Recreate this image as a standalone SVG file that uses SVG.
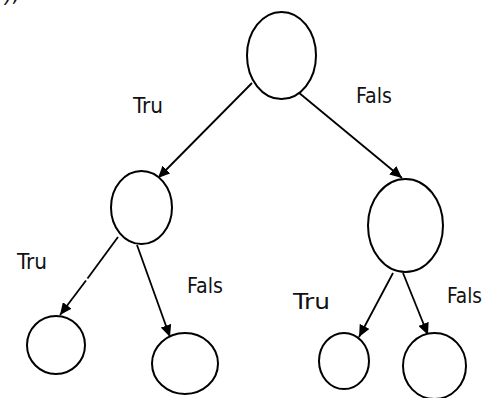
<svg xmlns="http://www.w3.org/2000/svg" width="488" height="398" viewBox="0 0 488 398">
<defs>
<marker id="arr" markerUnits="userSpaceOnUse" markerWidth="13" markerHeight="11" refX="12" refY="5.5" orient="auto">
<path d="M0,0 L12,5.5 L0,11 z" fill="#000"/>
</marker>
<style>
.node{fill:#fff;stroke:#000;stroke-width:2}
.ln{stroke:#000;stroke-width:1.8;fill:none}
.edge{stroke:#000;stroke-width:1.8;fill:none;marker-end:url(#arr)}
.lbl{font-family:"DejaVu Sans Condensed","DejaVu Sans","Liberation Sans",sans-serif;font-size:22px;fill:#111}
</style>
</defs>
<rect width="488" height="398" fill="#fff"/>
<text class="lbl" x="5" y="2" font-style="italic">),</text>
<g id="connectors">
<line class="edge" x1="252" y1="83" x2="158" y2="178"/>
<line class="edge" x1="298" y1="92" x2="402" y2="178"/>
<line class="ln" x1="118" y1="237" x2="87.5" y2="278.5"/>
<line class="edge" x1="86" y1="280.5" x2="60" y2="315"/>
<line class="edge" x1="137" y1="245" x2="170" y2="337"/>
<line class="edge" x1="393" y1="273" x2="359" y2="337"/>
<line class="edge" x1="403" y1="273" x2="428" y2="335"/>
</g>
<g id="root"><ellipse class="node" cx="281.5" cy="55.5" rx="34.5" ry="43.5"/></g>
<g id="left"><ellipse class="node" cx="141.5" cy="207.5" rx="30.5" ry="36.5"/></g>
<g id="right"><ellipse class="node" cx="405.5" cy="225.5" rx="37.5" ry="46.5"/></g>
<g id="leaf1"><ellipse class="node" cx="56" cy="345" rx="29" ry="29"/></g>
<g id="leaf2"><ellipse class="node" cx="185" cy="363.5" rx="33" ry="30.5"/></g>
<g id="leaf3"><ellipse class="node" cx="344" cy="361" rx="25" ry="28"/></g>
<g id="leaf4"><ellipse class="node" cx="434.5" cy="366" rx="31.5" ry="33"/></g>
<g id="labels">
<text class="lbl" x="133" y="113" textLength="30" lengthAdjust="spacingAndGlyphs">Tru</text>
<text class="lbl" x="356" y="103" textLength="36" lengthAdjust="spacingAndGlyphs">Fals</text>
<text class="lbl" x="17" y="269" textLength="30" lengthAdjust="spacingAndGlyphs">Tru</text>
<text class="lbl" x="187" y="293" textLength="36" lengthAdjust="spacingAndGlyphs">Fals</text>
<text class="lbl" x="293" y="309" font-size="27" textLength="37" lengthAdjust="spacingAndGlyphs">Tru</text>
<text class="lbl" x="447" y="303" textLength="35" lengthAdjust="spacingAndGlyphs">Fals</text>
</g>
</svg>
